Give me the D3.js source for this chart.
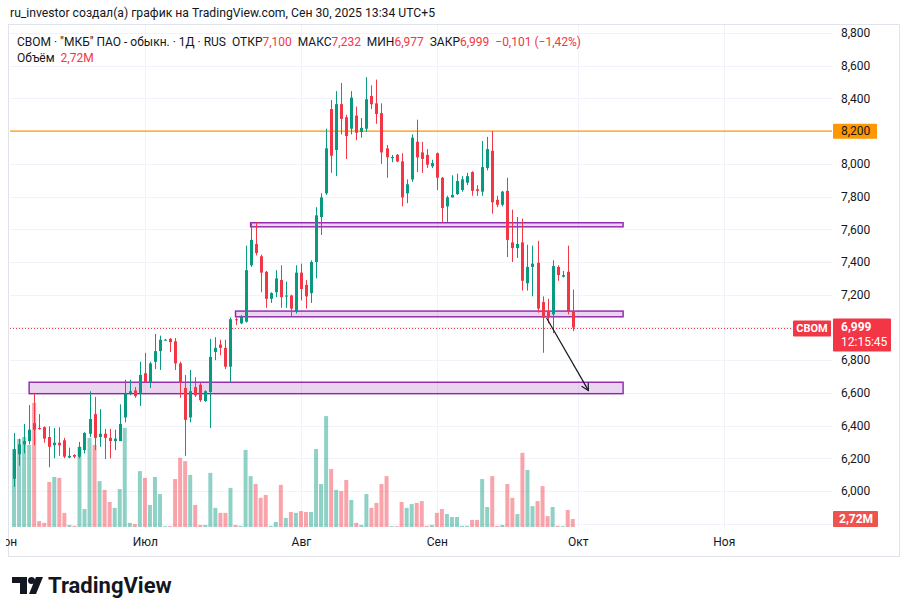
<!DOCTYPE html>
<html><head><meta charset="utf-8">
<script src="https://cdn.jsdelivr.net/npm/d3@7/dist/d3.min.js"></script>
<style>
html,body{margin:0;padding:0;background:#fff;}
svg{display:block;font-family:Roboto,"Noto Sans",sans-serif;}
</style></head><body>
<svg id="c" width="908" height="616"></svg>
<script>
// ---------- DATA ----------
const opens  = [6075,6225,6285,6305,6415,6385,6390,6330,6280,6295,6310,6205,6220,6210,6250,6350,6470,6330,6350,6325,6305,6305,6450,6595,6615,6600,6720,6665,6790,6855,6920,6930,6915,6780,6630,6450,6635,6650,6550,6605,6850,6895,6875,6760,7050,7025,7035,7380,7510,7435,7340,7175,7215,7290,7190,7195,7100,7335,7260,7210,7400,7675,7820,8335,8085,8365,8285,8215,8295,8195,8215,8415,8370,8310,8095,8035,8055,8015,7820,7905,8135,8070,8055,7985,8065,7915,7740,7795,7815,7840,7885,7950,7845,7830,7975,8080,7780,7750,7835,7520,7485,7520,7270,7370,7395,7155,7095,7080,7370,7310,7340,7100];
const highs  = [6355,6320,6410,6525,6600,6470,6395,6395,6385,6390,6325,6265,6225,6300,6360,6610,6575,6500,6380,6380,6375,6530,6680,6680,6635,6790,6845,6790,6960,6950,6930,6935,6935,6790,6710,6740,6695,6660,6615,6930,6940,6925,6925,7060,7060,7075,7500,7645,7645,7445,7345,7215,7350,7380,7280,7200,7380,7390,7290,7410,7735,7820,8215,8390,8445,8495,8300,8445,8350,8280,8530,8480,8515,8370,8115,8055,8060,8065,7905,8180,8270,8135,8090,8025,8070,7920,7805,7930,7940,7925,7945,7955,7870,8140,8165,8200,7805,7835,7915,7720,7675,7665,7505,7500,7530,7190,7175,7410,7380,7345,7500,7232];
const lows   = [6025,6155,6230,6285,6280,6375,6295,6145,6200,6215,6200,6200,6200,6200,6230,6330,6250,6270,6195,6200,6250,6305,6420,6585,6570,6520,6660,6630,6745,6740,6920,6850,6740,6570,6215,6420,6575,6545,6545,6385,6800,6830,6745,6665,7015,7020,7030,7370,7440,7215,7120,7150,7185,7120,7120,7065,7085,7165,7115,7150,7300,7565,7810,7945,7925,8180,8030,8180,8145,8160,8195,8335,8245,8000,7915,8010,8010,7740,7760,7890,7950,7945,7975,7975,7840,7645,7645,7795,7810,7830,7870,7805,7805,7805,7960,7695,7735,7740,7430,7400,7425,7225,7225,7190,7090,6845,7025,6965,7285,7305,7080,6977];
const closes = [6255,6285,6305,6375,6375,6380,6320,6270,6295,6280,6210,6215,6210,6270,6355,6440,6325,6350,6325,6305,6320,6410,6595,6610,6580,6710,6665,6780,6855,6925,6925,6910,6780,6660,6435,6610,6585,6555,6610,6820,6875,6875,6760,7050,7045,7065,7350,7535,7455,7335,7175,7210,7300,7185,7195,7115,7335,7235,7190,7400,7685,7795,8095,8050,8365,8275,8170,8405,8190,8220,8395,8365,8305,8070,8040,8042,8015,7795,7875,8160,8040,8030,7995,8005,7915,7730,7795,7810,7895,7905,7925,7835,7835,7980,8090,7765,7750,7830,7535,7485,7510,7285,7370,7390,7115,7060,7060,7375,7320,7320,7100,6999];
const volumes = [26.5,29.9,30.6,27.9,42.2,2.0,1.4,15.3,17.0,16.7,
  4.8,0.7,0.4,27.2,6.1,30.3,27.9,15.6,12.6,8.5,
  6.5,12.9,33.7,1.4,1.0,19.0,16.7,7.5,17.0,11.2,
  0.3,0.3,16.3,23.5,22.4,17.7,7.5,0.7,0.7,18.4,
  6.5,4.8,4.8,13.3,0.7,0.4,26.2,17.3,14.6,9.9,
  10.9,0.4,1.7,14.3,3.1,5.1,4.8,5.4,5.1,5.1,
  26.5,14.6,37.7,19.7,12.6,12.2,16.0,9.2,1.4,0.7,
  11.2,6.5,8.2,14.6,17.3,0.3,0.3,8.5,6.5,7.8,
  8.2,8.8,0.4,0.7,4.8,6.1,4.4,3.4,3.4,0.4,
  0.4,2.4,2.4,16.3,6.8,17.3,0.4,0.7,14.6,9.9,
  4.4,25.2,19.4,7.1,8.8,13.9,3.7,6.8,0.4,0.3,
  5.8,2.72];
const priceTicks = [8800,8600,8400,8200,8000,7800,7600,7400,7200,7000,6800,6600,6400,6200,6000];
const gridPrices = [8800,8600,8400,8200,8000,7800,7600,7400,7200,7000,6800,6600,6400,6200,6000,5800];
const hideTickLabels = [7000];
const monthLabels = ["Июн","Июл","Авг","Сен","Окт","Ноя"];
const monthBars = [-2,26,57,84,112,141];
const zoneTop    = [7640,7100,6665];
const zoneBottom = [7615,7065,6595];
const zoneFrom   = [47,44,3];
const zoneTo     = [121,121,121];
const levelPrice = 8200;
const lastClose = 6999;
const lastVolume = 2.72;
const arrowFrom = [105.8,7058];
const arrowTo   = [114.1,6615];

// ---------- LAYOUT ----------
const L=10, R=832, T=25, B=528;
const UP="#089981", DN="#F23645";
const svg=d3.select("#c");
const x=d3.scaleLinear().domain([-0.8,162.5]).range([L,R]);
const y=d3.scaleLinear().domain([6000,8800]).range([491,33]);
const vy=d3.scaleLinear().domain([0,60]).range([527,350.5]);
const fmt=d3.format(",");
const idx=d3.range(opens.length);

// frame
svg.append("rect").attr("x",8.5).attr("y",24.5).attr("width",891).attr("height",532)
  .attr("fill","none").attr("stroke","#E0E3EB");

svg.append("defs").append("clipPath").attr("id","pc").append("rect")
  .attr("x",L).attr("y",T).attr("width",R-L).attr("height",B-T);
const g=svg.append("g").attr("clip-path","url(#pc)");

// grid
g.selectAll(".hg").data(gridPrices).join("line")
  .attr("x1",L).attr("x2",R).attr("y1",d=>Math.round(y(d))+0.5).attr("y2",d=>Math.round(y(d))+0.5)
  .attr("stroke","#F0F3FA");
g.selectAll(".vg").data(monthBars).join("line")
  .attr("x1",d=>Math.round(x(d))+0.5).attr("x2",d=>Math.round(x(d))+0.5).attr("y1",T).attr("y2",B)
  .attr("stroke","#F0F3FA");

// volume
g.selectAll(".vol").data(idx).join("rect")
  .attr("x",i=>x(i)-2).attr("width",4)
  .attr("y",i=>vy(volumes[i])).attr("height",i=>Math.max(0.8,vy(0)-vy(volumes[i])))
  .attr("fill",i=>closes[i]>=opens[i]?"rgba(8,153,129,0.45)":"rgba(242,54,69,0.45)");

// zones
g.selectAll(".zone").data(zoneTop).join("rect")
  .attr("x",(d,k)=>x(zoneFrom[k])).attr("width",(d,k)=>x(zoneTo[k])-x(zoneFrom[k]))
  .attr("y",d=>y(d)).attr("height",(d,k)=>y(zoneBottom[k])-y(d))
  .attr("fill","rgba(156,39,176,0.2)").attr("stroke","#8E24AA").attr("stroke-width",1.4);

// level line
g.append("line").attr("x1",L).attr("x2",R).attr("y1",y(levelPrice)).attr("y2",y(levelPrice))
  .attr("stroke","#FF9800").attr("stroke-width",1.3);

// last price dotted line
g.append("line").attr("x1",L).attr("x2",R).attr("y1",Math.round(y(lastClose))+0.5).attr("y2",Math.round(y(lastClose))+0.5)
  .attr("stroke",DN).attr("stroke-width",1).attr("stroke-dasharray","1 2");

// candles
const cg=g.append("g");
cg.selectAll(".wick").data(idx).join("line")
  .attr("x1",i=>Math.round(x(i))+0.5).attr("x2",i=>Math.round(x(i))+0.5)
  .attr("y1",i=>y(highs[i])).attr("y2",i=>y(lows[i]))
  .attr("stroke",i=>closes[i]>=opens[i]?UP:DN).attr("stroke-width",1);
cg.selectAll(".body").data(idx).join("rect")
  .attr("x",i=>Math.round(x(i))-1).attr("width",3)
  .attr("y",i=>y(Math.max(opens[i],closes[i])))
  .attr("height",i=>Math.max(1,Math.abs(y(opens[i])-y(closes[i]))))
  .attr("fill",i=>closes[i]>=opens[i]?UP:DN);

// arrow
const ax1=x(arrowFrom[0]), ay1=y(arrowFrom[1]), ax2=x(arrowTo[0]), ay2=y(arrowTo[1]);
g.append("line").attr("x1",ax1).attr("y1",ay1).attr("x2",ax2).attr("y2",ay2)
  .attr("stroke","#131722").attr("stroke-width",1.2);
const ang=Math.atan2(ay2-ay1,ax2-ax1), ah=8;
g.append("path").attr("d",`M${ax2-ah*Math.cos(ang-0.5)},${ay2-ah*Math.sin(ang-0.5)}L${ax2},${ay2}L${ax2-ah*Math.cos(ang+0.5)},${ay2-ah*Math.sin(ang+0.5)}`)
  .attr("fill","none").attr("stroke","#131722").attr("stroke-width",1.2);

// price axis
const pa=svg.append("g").attr("transform",`translate(${R},0)`)
  .call(d3.axisRight(y).tickValues(priceTicks.filter(t=>!hideTickLabels.includes(t))).tickSize(0).tickPadding(9).tickFormat(fmt));
pa.select(".domain").remove();
pa.selectAll("text").attr("font-size",12).attr("fill","#131722").attr("font-family","Roboto");

// time axis
const ta=svg.append("g").attr("transform",`translate(0,${B})`)
  .call(d3.axisBottom(x).tickValues(monthBars).tickSize(0).tickPadding(9).tickFormat((d,k)=>monthLabels[k]));
ta.select(".domain").remove();
ta.selectAll("text").attr("font-size",12).attr("fill","#131722").attr("font-family","Roboto");
// the chart widget crops the first month label at its left edge, as in the reference
svg.append("rect").attr("x",0).attr("y",B).attr("width",6).attr("height",28).attr("fill","#fff");

// right labels
const ly=y(levelPrice);
svg.append("rect").attr("x",833).attr("y",ly-7.5).attr("width",44).attr("height",15).attr("rx",1).attr("fill","#FF9800");
svg.append("text").attr("x",841).attr("y",ly).attr("dy","0.35em").attr("font-size",12).attr("fill","#131722").text(fmt(levelPrice));

const cy=y(lastClose);
svg.append("rect").attr("x",833).attr("y",cy-9).attr("width",58).attr("height",33).attr("rx",1).attr("fill",DN);
svg.append("text").attr("x",841).attr("y",cy-1).attr("dy","0.35em").attr("font-size",12).attr("font-weight","bold").attr("fill","#fff").text(fmt(lastClose));
svg.append("text").attr("x",841).attr("y",cy+14).attr("dy","0.35em").attr("font-size",12).attr("fill","#fff").text("12:15:45");
svg.append("rect").attr("x",793).attr("y",cy-7).attr("width",38).attr("height",16).attr("rx",1).attr("fill",DN);
svg.append("text").attr("x",812).attr("y",cy+1).attr("dy","0.35em").attr("text-anchor","middle").attr("font-size",11).attr("font-weight","bold").attr("fill","#fff").text("СВОМ");

const vly=vy(lastVolume);
svg.append("rect").attr("x",833).attr("y",vly-8).attr("width",45).attr("height",16).attr("rx",1).attr("fill","#EF5350");
svg.append("text").attr("x",839).attr("y",vly).attr("dy","0.35em").attr("font-size",12).attr("font-weight","bold").attr("fill","#fff").text("2,72M");

// header
svg.append("text").attr("x",10).attr("y",13).attr("dy","0.35em").attr("font-size",12.2).attr("fill","#131722")
  .text("ru_investor создал(а) график на TradingView.com, Сен 30, 2025 13:34 UTC+5");
const lg=svg.append("text").attr("x",17).attr("y",42).attr("dy","0.35em").attr("font-size",12).attr("fill","#131722").style("white-space","pre");
lg.append("tspan").text("СВОМ · \"МКБ\" ПАО - обыкн. · 1Д · RUS  ОТКР");
lg.append("tspan").attr("fill",DN).text(fmt(opens[111]));
lg.append("tspan").text("  МАКС");
lg.append("tspan").attr("fill",DN).text(fmt(highs[111]));
lg.append("tspan").text("  МИН");
lg.append("tspan").attr("fill",DN).text(fmt(lows[111]));
lg.append("tspan").text("  ЗАКР");
lg.append("tspan").attr("fill",DN).text(fmt(closes[111]));
lg.append("tspan").attr("fill",DN).text("  −0,101 (−1,42%)");
const lg2=svg.append("text").attr("x",17).attr("y",58).attr("dy","0.35em").attr("font-size",12).attr("fill","#131722").style("white-space","pre");
lg2.append("tspan").text("Объём  ");
lg2.append("tspan").attr("fill",DN).text("2,72M");

// logo
const lgG=svg.append("g").attr("fill","#131722");
lgG.append("path").attr("d","M12,577H27V594H20V583H12Z");
lgG.append("circle").attr("cx",31.5).attr("cy",580.5).attr("r",3.5);
lgG.append("path").attr("d","M36,577H43L36,594H29Z");
svg.append("text").attr("x",48).attr("y",593).attr("font-size",22).attr("font-weight","bold").attr("fill","#131722").text("TradingView");
</script></body></html>
